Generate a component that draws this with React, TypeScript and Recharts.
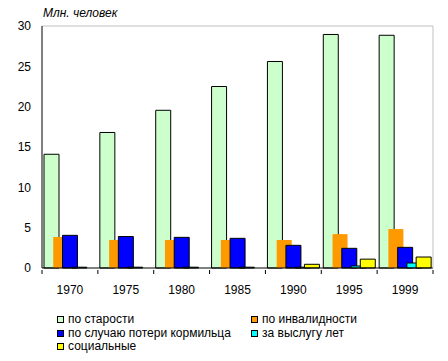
import { BarChart, Bar, XAxis, YAxis, ReferenceLine, Legend } from 'recharts';

const years = ['1970', '1975', '1980', '1985', '1990', '1995', '1999'];
const oldAge = [14.1, 16.8, 19.55, 22.5, 25.6, 28.95, 28.85];
const disability = [3.84, 3.47, 3.47, 3.47, 3.47, 4.2, 4.83];
const survivor = [4.05, 3.9, 3.8, 3.68, 2.81, 2.44, 2.56];
const service = [0.1, 0.1, 0.1, 0.1, 0.1, 0.25, 0.62];
const social = [0, 0, 0, 0, 0.46, 1.1, 1.36];
const yTicks = [0, 5, 10, 15, 20, 25, 30];

const FONT = '"Liberation Sans", Arial, sans-serif';

const series = [
  { key: 'oldAge', name: 'по старости', color: '#ccffcc', stroke: '#000', values: oldAge },
  { key: 'disability', name: 'по инвалидности', color: '#ff9900', stroke: 'none', values: disability },
  { key: 'survivor', name: 'по случаю потери кормильца', color: '#0000ff', stroke: '#000', values: survivor },
  { key: 'service', name: 'за выслугу лет', color: '#00ffff', stroke: '#000', values: service },
  { key: 'social', name: 'социальные', color: '#ffff00', stroke: '#000', values: social },
];

const data = years.map((year, i) => {
  const row: Record<string, string | number> = { year };
  series.forEach((s) => {
    row[s.key] = s.values[i];
  });
  return row;
});

function XTick(props: any) {
  const { x, y, payload, index } = props;
  const half = payload?.offset || 391 / 14;
  return (
    <g>
      <line x1={x - half} x2={x - half} y1={y} y2={y + 4} stroke="#000" />
      {index === years.length - 1 && (
        <line x1={x + half} x2={x + half} y1={y} y2={y + 4} stroke="#000" />
      )}
      <text x={x} y={y + 15} dy="0.71em" textAnchor="middle" fontSize={12} fontFamily={FONT} fill="#000">
        {payload.value}
      </text>
    </g>
  );
}

function LegendBox() {
  const cols = [57, 251];
  const rows = [16, 30, 43];
  return (
    <div style={{ position: 'relative', width: 448, height: 58, fontFamily: FONT, fontSize: 12 }}>
      {series.map((s, i) => (
        <div
          key={s.key}
          style={{
            position: 'absolute',
            left: cols[i % 2],
            top: rows[Math.floor(i / 2)] - 7,
            height: 14,
            lineHeight: '14px',
            display: 'flex',
            alignItems: 'center',
            whiteSpace: 'nowrap',
            color: '#000',
          }}
        >
          <span
            style={{
              display: 'inline-block',
              width: 7,
              height: 7,
              boxSizing: 'border-box',
              border: '1px solid #000',
              background: s.color,
              marginRight: 4,
            }}
          />
          {s.name}
        </div>
      ))}
    </div>
  );
}

export default function App() {
  return (
    <div style={{ position: 'absolute', left: 0, top: 0, width: 448, height: 361, background: '#fff' }}>
      <div
        style={{
          position: 'absolute',
          left: 43,
          top: 6,
          fontFamily: FONT,
          fontSize: 12,
          fontStyle: 'italic',
          lineHeight: '14px',
          color: '#000',
        }}
      >
        Млн. человек
      </div>
      <BarChart
        width={448}
        height={361}
        data={data}
        margin={{ top: 26, right: 0, left: 0, bottom: 0 }}
        barCategoryGap={0}
        barGap={-5.75}
      >
        <XAxis
          dataKey="year"
          height={35}
          axisLine={{ stroke: '#000' }}
          tickLine={false}
          tickSize={0}
          tick={<XTick />}
          interval={0}
        />
        <YAxis
          domain={[0, 30]}
          ticks={yTicks}
          width={42}
          axisLine={{ stroke: '#000' }}
          tickLine={false}
          tickSize={0}
          tickMargin={11}
          tick={{ fill: '#000', fontSize: 12, fontFamily: FONT }}
        />
        <YAxis
          yAxisId="right"
          orientation="right"
          width={15}
          tick={false}
          tickLine={false}
          axisLine={{ stroke: '#c0c0c0' }}
        />
        <ReferenceLine y={30} stroke="#c0c0c0" />
        {series.map((s) => (
          <Bar
            key={s.key}
            dataKey={s.key}
            name={s.name}
            fill={s.color}
            stroke={s.stroke}
            strokeWidth={1}
            barSize={15}
            isAnimationActive={false}
          />
        ))}
        <Legend
          verticalAlign="bottom"
          height={58}
          wrapperStyle={{ left: 0, bottom: 0, width: 448, height: 58 }}
          content={() => <LegendBox />}
        />
      </BarChart>
    </div>
  );
}
